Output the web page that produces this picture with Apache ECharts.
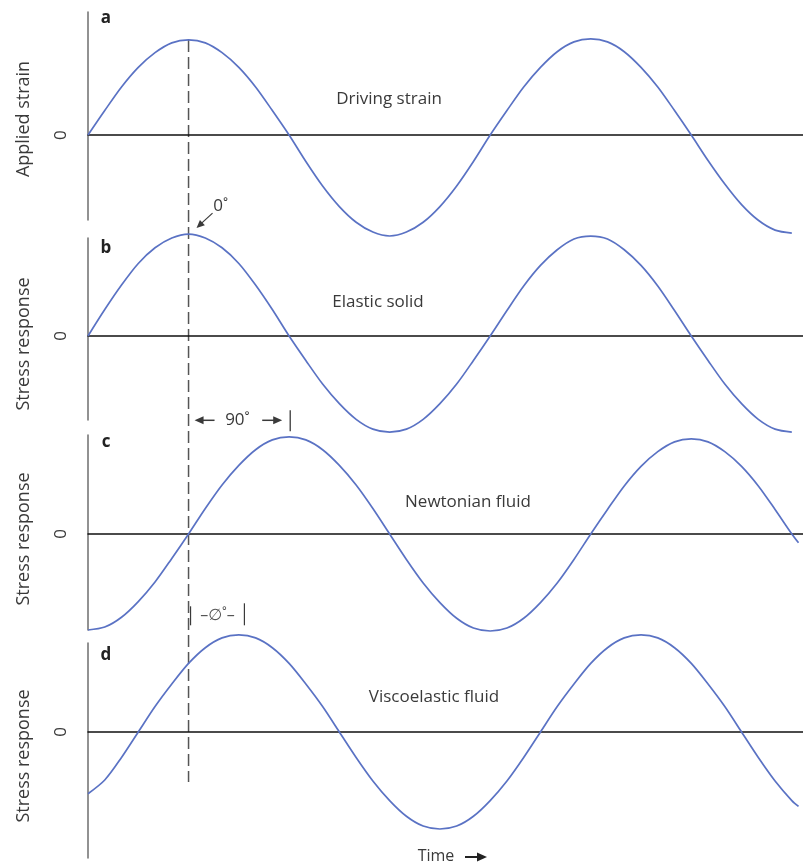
<!DOCTYPE html>
<html>
<head>
<meta charset="utf-8">
<title>Oscillatory strain and stress response</title>
<script src="https://cdn.jsdelivr.net/npm/echarts@6/dist/echarts.min.js"></script>
<style>
  html, body { margin: 0; padding: 0; background: #fff; }
  #chart { width: 803px; height: 868px; }
</style>
</head>
<body>
<div id="chart"></div>
<script>
// Phase of the driving oscillation, in degrees (15-degree samples)
const timeDeg = [0, 15, 30, 45, 60, 75, 90, 105, 120, 135, 150, 165, 180,
                 195, 210, 225, 240, 255, 270, 285, 300, 315, 330, 345, 360,
                 375, 390, 405, 420, 435, 450, 465, 480, 495, 510, 525, 540,
                 555, 570, 585, 600, 615, 630];

// (a) applied strain
const appliedStrain = [0, 0.25, 0.49, 0.69, 0.84, 0.94, 0.97, 0.94, 0.84, 0.69, 0.49, 0.25, 0,
                       -0.27, -0.52, -0.73, -0.89, -0.99, -1.03, -0.99, -0.89, -0.73, -0.52, -0.27, 0,
                       0.25, 0.49, 0.69, 0.85, 0.95, 0.98, 0.95, 0.85, 0.69, 0.49, 0.25, 0,
                       -0.26, -0.5, -0.71, -0.87, -0.97, -1.0];
// (b) elastic solid: stress in phase with strain
const elasticStress = [0, 0.27, 0.52, 0.74, 0.9, 1.0, 1.04, 1.0, 0.9, 0.74, 0.52, 0.27, 0,
                       -0.25, -0.49, -0.69, -0.85, -0.95, -0.98, -0.95, -0.85, -0.69, -0.49, -0.25, 0,
                       0.26, 0.51, 0.72, 0.88, 0.99, 1.02, 0.99, 0.88, 0.72, 0.51, 0.26, 0,
                       -0.25, -0.49, -0.69, -0.85, -0.95, -0.98];
// (c) Newtonian fluid: stress shifted a quarter cycle from strain
const newtonianStress = [-0.98, -0.95, -0.85, -0.69, -0.49, -0.25, 0, 0.26, 0.5, 0.7, 0.86, 0.96, 0.99,
                         0.96, 0.86, 0.7, 0.5, 0.26, 0, -0.26, -0.5, -0.7, -0.86, -0.96, -0.99,
                         -0.96, -0.86, -0.7, -0.5, -0.26, 0, 0.25, 0.49, 0.69, 0.84, 0.94, 0.97,
                         0.94, 0.84, 0.69, 0.49, 0.25, 0];
const newtonianTail = [636, -0.09];
// (d) viscoelastic fluid: intermediate phase shift
const viscoStress = [-0.63, -0.49, -0.26, 0, 0.26, 0.49, 0.7, 0.86, 0.96, 0.99, 0.96, 0.86, 0.7,
                     0.49, 0.26, 0, -0.26, -0.5, -0.7, -0.86, -0.96, -0.99, -0.96, -0.86, -0.7,
                     -0.5, -0.26, 0, 0.26, 0.49, 0.7, 0.86, 0.96, 0.99, 0.96, 0.86, 0.7,
                     0.49, 0.26, 0, -0.26, -0.5, -0.7];
const viscoTail = [636, -0.76];

const panelLetters = ['a', 'b', 'c', 'd'];
const axisNames = ['Applied strain', 'Stress response', 'Stress response', 'Stress response'];
const captions = ['Driving strain', 'Elastic solid', 'Newtonian fluid', 'Viscoelastic fluid'];
const zeroTick = [0];

const BLUE = '#5a72c4';
const INK = '#3a3a3a';
const FONT = '"Open Sans", "DejaVu Sans", sans-serif';

function pairs(values, tail) {
  const pts = timeDeg.map((t, i) => [t, values[i]]);
  if (tail) pts.push(tail);
  return pts;
}

const seriesData = [
  pairs(appliedStrain),
  pairs(elasticStress),
  pairs(newtonianStress, newtonianTail),
  pairs(viscoStress, viscoTail)
];

// vertical layout of the four stacked panels
const layout = [
  { top: 12,  height: 208, min: -0.867, max: 1.255, nameY: 119, capX: 389, capY: 99,  letterY: 18 },
  { top: 238, height: 182, min: -0.857, max: 1.0,   nameY: 344, capX: 378, capY: 302, letterY: 248 },
  { top: 435, height: 195, min: -0.98,  max: 1.01,  nameY: 539, capX: 468, capY: 502, letterY: 442 },
  { top: 643, height: 215, min: -1.286, max: 0.908, nameY: 756, capX: 434, capY: 697, letterY: 655 }
];

const chart = echarts.init(document.getElementById('chart'), null, { renderer: 'canvas' });

const option = {
  animation: false,
  backgroundColor: '#ffffff',
  grid: layout.map(l => ({ left: 88, right: 0, top: l.top, height: l.height })),
  xAxis: layout.map((l, i) => ({
    type: 'value', gridIndex: i, min: 0, max: 640,
    axisLine: { show: true, onZero: true, lineStyle: { color: '#111', width: 1.5 } },
    axisTick: { show: false }, axisLabel: { show: false }, splitLine: { show: false }
  })),
  yAxis: layout.map((l, i) => ({
    type: 'value', gridIndex: i, min: l.min, max: l.max,
    axisLine: { show: true, onZero: false, lineStyle: { color: '#6e6e6e', width: 1.5 } },
    axisTick: { show: false }, splitLine: { show: false },
    axisLabel: {
      show: true, customValues: zeroTick, rotate: 90, margin: 18,
      color: INK, fontSize: 17, fontFamily: FONT
    }
  })),
  series: seriesData.map((d, i) => ({
    type: 'line', xAxisIndex: i, yAxisIndex: i, data: d,
    smooth: 0.3, showSymbol: false, clip: false,
    lineStyle: { color: BLUE, width: 1.7 }
  }))
};
chart.setOption(option);

// annotations placed from data coordinates
function px(grid, x, y) { return chart.convertToPixel({ gridIndex: grid }, [x, y]); }

function arrowHead(tip, dx, dy, size, color) {
  const len = Math.hypot(dx, dy); const ux = dx / len, uy = dy / len;
  const bx = tip[0] - ux * size, by = tip[1] - uy * size;
  const w = size * 0.45;
  return {
    type: 'polygon',
    shape: { points: [tip, [bx - uy * w, by + ux * w], [bx + uy * w, by - ux * w]] },
    style: { fill: color }
  };
}

const g = [];

// axis titles, panel letters and captions
layout.forEach((l, i) => {
  g.push({
    type: 'text', x: 24, y: l.nameY, rotation: Math.PI / 2,
    style: { text: axisNames[i], fill: INK, font: '18px ' + FONT, textAlign: 'center', textVerticalAlign: 'middle' }
  });
  g.push({
    type: 'text', x: 106, y: l.letterY,
    style: { text: panelLetters[i], fill: '#222', font: 'bold 17px ' + FONT, textAlign: 'center', textVerticalAlign: 'middle' }
  });
  g.push({
    type: 'text', x: l.capX, y: l.capY,
    style: { text: captions[i], fill: INK, font: '17px ' + FONT, textAlign: 'center', textVerticalAlign: 'middle' }
  });
});

// dashed reference line through the first strain peak
const dashTop = px(0, 90, 0.97);
const dashBot = px(3, 90, -0.51);
g.push({
  type: 'line', shape: { x1: dashTop[0], y1: dashTop[1], x2: dashBot[0], y2: dashBot[1] },
  style: { stroke: '#555', lineWidth: 1.5, lineDash: [12, 5] }
});

// 0° marker on the elastic-solid peak
const peakB = px(1, 90, 1.04);
const tip0 = [peakB[0] + 8, peakB[1] - 6];
const tail0 = [peakB[0] + 24, peakB[1] - 21];
g.push({ type: 'line', shape: { x1: tail0[0], y1: tail0[1], x2: tip0[0] + 4, y2: tip0[1] - 4 }, style: { stroke: INK, lineWidth: 1.2 } });
g.push(arrowHead(tip0, tip0[0] - tail0[0], tip0[1] - tail0[1], 8, INK));
g.push({ type: 'text', x: peakB[0] + 32, y: peakB[1] - 28, style: { text: '0˚', fill: INK, font: '17px ' + FONT, textAlign: 'center', textVerticalAlign: 'middle' } });

// 90° span between strain peak and Newtonian stress peak
const s90a = px(1, 90, -0.86);
const s90b = px(1, 181, -0.86);
const yy = s90a[1];
g.push(arrowHead([s90a[0] + 6, yy], -1, 0, 9, INK));
g.push({ type: 'line', shape: { x1: s90a[0] + 12, y1: yy, x2: s90a[0] + 26, y2: yy }, style: { stroke: INK, lineWidth: 1.5 } });
g.push({ type: 'text', x: (s90a[0] + s90b[0]) / 2 - 2, y: yy, style: { text: '90˚', fill: INK, font: '17px ' + FONT, textAlign: 'center', textVerticalAlign: 'middle' } });
g.push({ type: 'line', shape: { x1: s90b[0] - 28, y1: yy, x2: s90b[0] - 14, y2: yy }, style: { stroke: INK, lineWidth: 1.5 } });
g.push(arrowHead([s90b[0] - 8, yy], 1, 0, 9, INK));
g.push({ type: 'line', shape: { x1: s90b[0], y1: yy - 10, x2: s90b[0], y2: yy + 11 }, style: { stroke: INK, lineWidth: 1.3 } });

// phase-angle span for the viscoelastic fluid
const sPa = px(2, 90, -0.83);
const sPb = px(2, 140, -0.83);
const yp = sPa[1];
g.push({ type: 'line', shape: { x1: sPa[0] + 2, y1: yp - 9, x2: sPa[0] + 2, y2: yp + 10 }, style: { stroke: INK, lineWidth: 1.2 } });
g.push({ type: 'line', shape: { x1: sPb[0], y1: yp - 12, x2: sPb[0], y2: yp + 10 }, style: { stroke: INK, lineWidth: 1.2 } });
g.push({ type: 'text', x: (sPa[0] + sPb[0]) / 2 + 1, y: yp, style: { text: '–∅˚–', fill: '#555', font: '16px ' + FONT, textAlign: 'center', textVerticalAlign: 'middle' } });

// time axis title
g.push({ type: 'text', x: 436, y: 856, style: { text: 'Time', fill: INK, font: '16px ' + FONT, textAlign: 'center', textVerticalAlign: 'middle' } });
g.push({ type: 'line', shape: { x1: 465, y1: 857, x2: 478, y2: 857 }, style: { stroke: '#222', lineWidth: 2 } });
g.push(arrowHead([487, 857], 1, 0, 10, '#222'));

chart.setOption({ graphic: g });
</script>
</body>
</html>
